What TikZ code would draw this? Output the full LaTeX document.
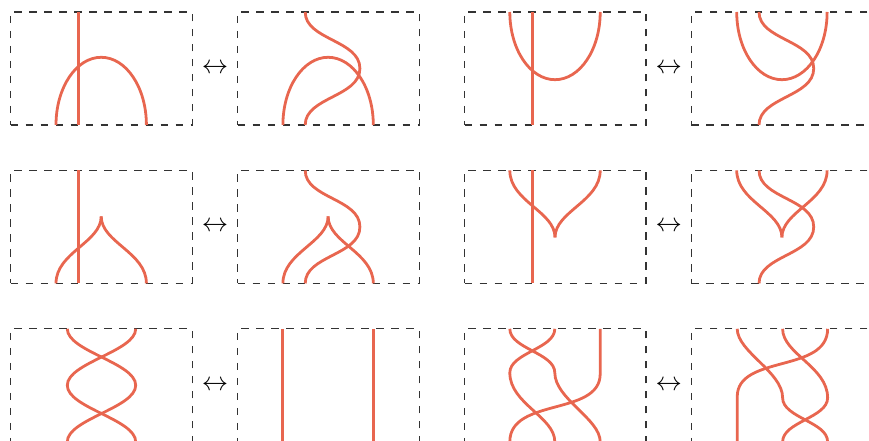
\documentclass[tikz,border=0pt]{standalone}
\usepackage{tikz}
\usetikzlibrary{positioning, calc}
\definecolor{strandred}{RGB}{232,102,79}

\begin{document}
\begin{tikzpicture}[x=0.5bp, y=-0.5bp, node distance=22.7bp,
        panel/.style={draw=black!80, line width=0.6pt, dash pattern=on 3.75bp off 3.75bp,
            rectangle, minimum width=90.75bp, minimum height=56.5bp, inner sep=0pt, outer sep=0pt},
        strand/.style={draw=strandred, line width=1.4pt},
        iff/.style={inner sep=0pt, font=\large, scale=1.1}]
        \clip (0,0) rectangle (869,441);

        % Panels
        \node[panel, anchor=north west] (p11) at (10.7,12) {};
        \node[panel, right=of p11] (p12) {};
        \node[panel, right=of p12] (p13) {};
        \node[panel, right=of p13] (p14) {};
        \node[panel, below=of p11] (p21) {};
        \node[panel, right=of p21] (p22) {};
        \node[panel, right=of p22] (p23) {};
        \node[panel, right=of p23] (p24) {};
        \node[panel, below=of p21] (p31) {};
        \node[panel, right=of p31] (p32) {};
        \node[panel, right=of p32] (p33) {};
        \node[panel, right=of p33] (p34) {};

        % Equivalences
        \node[iff] (iff11) at ($(p11.east)!0.5!(p12.west)$) {$\leftrightarrow$};
        \node[iff] (iff13) at ($(p13.east)!0.5!(p14.west)$) {$\leftrightarrow$};
        \node[iff] (iff21) at ($(p21.east)!0.5!(p22.west)$) {$\leftrightarrow$};
        \node[iff] (iff23) at ($(p23.east)!0.5!(p24.west)$) {$\leftrightarrow$};
        \node[iff] (iff31) at ($(p31.east)!0.5!(p32.west)$) {$\leftrightarrow$};
        \node[iff] (iff33) at ($(p33.east)!0.5!(p34.west)$) {$\leftrightarrow$};

        % Row 1: cap under a line
        \begin{scope}[shift={(p11.north west)}]
            \draw[strand] (67.6,0) -- (67.6,113);
            \draw[strand] (45.3,113) .. controls (45.3,75.6) and (65.5,45.3) .. (90.5,45.3)
                .. controls (115.5,45.3) and (135.7,75.6) .. (135.7,113);
        \end{scope}
        \begin{scope}[shift={(p12.north west)}]
            \draw[strand] (45.3,113) .. controls (45.3,75.6) and (65.5,45.3) .. (90.5,45.3)
                .. controls (115.5,45.3) and (135.7,75.6) .. (135.7,113);
            \draw[strand] (67.6,0) .. controls (67.6,28) and (122.3,28) .. (122.3,56.5)
                .. controls (122.3,85) and (67.6,85) .. (67.6,113);
        \end{scope}
        \begin{scope}[shift={(p13.north west)}]
            \draw[strand] (67.6,0) -- (67.6,113);
            \draw[strand] (45.3,0) .. controls (45.3,37.4) and (65.5,67.7) .. (90.5,67.7)
                .. controls (115.5,67.7) and (135.7,37.4) .. (135.7,0);
        \end{scope}
        \begin{scope}[shift={(p14.north west)}]
            \draw[strand] (45.3,0) .. controls (45.3,37.4) and (65.5,67.7) .. (90.5,67.7)
                .. controls (115.5,67.7) and (135.7,37.4) .. (135.7,0);
            \draw[strand] (67.6,0) .. controls (67.6,28) and (122.3,28) .. (122.3,56.5)
                .. controls (122.3,85) and (67.6,85) .. (67.6,113);
        \end{scope}

        % Row 2: merge and split
        \begin{scope}[shift={(p21.north west)}]
            \draw[strand] (67.6,0) -- (67.6,113);
            \draw[strand] (90.5,46) .. controls (90.5,72) and (45.3,82) .. (45.3,113);
            \draw[strand] (90.5,46) .. controls (90.5,72) and (135.7,82) .. (135.7,113);
        \end{scope}
        \begin{scope}[shift={(p22.north west)}]
            \draw[strand] (90.5,46) .. controls (90.5,72) and (45.3,82) .. (45.3,113);
            \draw[strand] (90.5,46) .. controls (90.5,72) and (135.7,82) .. (135.7,113);
            \draw[strand] (67.6,0) .. controls (67.6,28) and (122.3,28) .. (122.3,56.5)
                .. controls (122.3,85) and (67.6,85) .. (67.6,113);
        \end{scope}
        \begin{scope}[shift={(p23.north west)}]
            \draw[strand] (67.6,0) -- (67.6,113);
            \draw[strand] (90.5,67) .. controls (90.5,41) and (45.3,31) .. (45.3,0);
            \draw[strand] (90.5,67) .. controls (90.5,41) and (135.7,31) .. (135.7,0);
        \end{scope}
        \begin{scope}[shift={(p24.north west)}]
            \draw[strand] (90.5,67) .. controls (90.5,41) and (45.3,31) .. (45.3,0);
            \draw[strand] (90.5,67) .. controls (90.5,41) and (135.7,31) .. (135.7,0);
            \draw[strand] (67.6,0) .. controls (67.6,28) and (122.3,28) .. (122.3,56.5)
                .. controls (122.3,85) and (67.6,85) .. (67.6,113);
        \end{scope}

        % Row 3: double twist and braid move
        \begin{scope}[shift={(p31.north west)}]
            \draw[strand] (56.6,0) .. controls (56.6,22.6) and (125,33.9) .. (125,56.5)
                .. controls (125,79.1) and (56.6,90.4) .. (56.6,113);
            \draw[strand] (125,0) .. controls (125,22.6) and (56.6,33.9) .. (56.6,56.5)
                .. controls (56.6,79.1) and (125,90.4) .. (125,113);
        \end{scope}
        \begin{scope}[shift={(p32.north west)}]
            \draw[strand] (45,0) -- (45,113);
            \draw[strand] (135.6,0) -- (135.6,113);
        \end{scope}
        \begin{scope}[shift={(p33.north west)}]
            \draw[strand] (45.3,0) .. controls (45.3,20) and (90.3,24) .. (90.3,44)
                .. controls (90.3,70) and (135.7,90) .. (135.7,113);
            \draw[strand] (90.3,0) .. controls (90.3,20) and (45.3,24) .. (45.3,44)
                .. controls (45.3,75) and (90.3,88) .. (90.3,113);
            \draw[strand] (135.7,0) -- (135.7,45) .. controls (135.7,87.6) and (45.3,68.4) .. (45.3,113);
        \end{scope}
        \begin{scope}[shift={(p34.south east)}, rotate=180]
            \draw[strand] (45.3,0) .. controls (45.3,20) and (90.3,24) .. (90.3,44)
                .. controls (90.3,70) and (135.7,90) .. (135.7,113);
            \draw[strand] (90.3,0) .. controls (90.3,20) and (45.3,24) .. (45.3,44)
                .. controls (45.3,75) and (90.3,88) .. (90.3,113);
            \draw[strand] (135.7,0) -- (135.7,45) .. controls (135.7,87.6) and (45.3,68.4) .. (45.3,113);
        \end{scope}
\end{tikzpicture}
\end{document}
